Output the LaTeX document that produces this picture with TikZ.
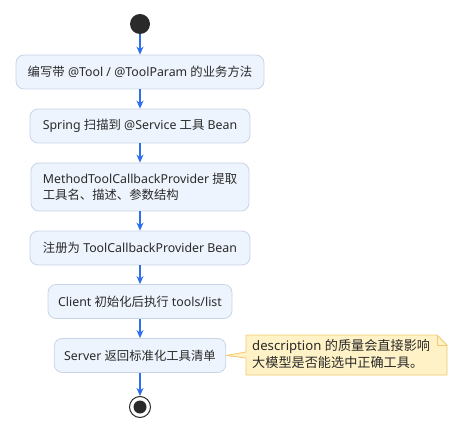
\documentclass[tikz,border=0pt]{standalone}
\usepackage{fontspec}
\setmainfont{Noto Sans}
\newfontfamily\cjk{Noto Sans CJK SC}
\usetikzlibrary{arrows.meta,positioning,calc}

\definecolor{stepfill}{HTML}{EEF4FD}
\definecolor{stepline}{HTML}{C8D4E8}
\definecolor{flowblue}{HTML}{2F6FEB}
\definecolor{notefill}{HTML}{FFF2C6}
\definecolor{noteline}{HTML}{F2C96E}
\definecolor{inkgray}{HTML}{2A2A2A}

\begin{document}
\begin{tikzpicture}[x=1bp, y=-1bp,
    act/.style={draw=stepline, fill=stepfill, rounded corners=8bp, line width=0.8bp,
        minimum height=34bp, inner xsep=10bp, align=left, text=inkgray,
        font=\fontsize{12.4}{15.5}\selectfont},
    flow/.style={-{Stealth[length=8bp, width=7bp, inset=2.5bp]}, draw=flowblue, line width=1.3bp},
    dot/.style={circle, inner sep=0pt}]
    % Frame
    \useasboundingbox (0,0) rectangle (468,437);
    % Start and end
    \node [dot, fill=inkgray, minimum size=20bp] (start) at (140,24) {};
    \node [dot, draw=inkgray, line width=1bp, minimum size=21bp] (stop) at (140,407) {};
    \node [dot, fill=inkgray, minimum size=13bp] (stopdot) at (stop) {};
    % Actions
    \node [act, minimum width=248bp] (write)    at (140,72)    {{\cjk 编写带} @Tool / @ToolParam {\cjk 的业务方法}};
    \node [act, minimum width=220bp] (scan)     at (140,126)   {Spring {\cjk 扫描到} @Service {\cjk 工具} Bean};
    \node [act, minimum width=218bp, minimum height=48bp] (extract) at (140,187)
        {MethodToolCallbackProvider {\cjk 提取}\\{\cjk 工具名、描述、参数结构}};
    \node [act, minimum width=220bp] (register) at (140,248)   {{\cjk 注册为} ToolCallbackProvider Bean};
    \node [act, minimum width=184bp] (list)     at (140,301.5) {Client {\cjk 初始化后执行} tools/list};
    \node [act, minimum width=171bp] (reply)    at (140,355.5) {Server {\cjk 返回标准化工具清单}};
    % Flow
    \draw [flow] (start) -- (write);
    \draw [flow] (write) -- (scan);
    \draw [flow] (scan) -- (extract);
    \draw [flow] (extract) -- (register);
    \draw [flow] (register) -- (list);
    \draw [flow] (list) -- (reply);
    \draw [flow] (reply) -- (stop);
    % Note with folded corner
    \coordinate (nw) at (246,335);
    \coordinate (se) at (447,375);
    \draw [draw=noteline, fill=notefill, line width=0.8bp, line join=round]
        (nw) -- ($(se|-nw)+(-10,0)$) -- ($(se|-nw)+(0,10)$) -- (se) -- (nw|-se)
        -- ($(nw)+(0,23)$) -- (reply.east) -- ($(nw)+(0,17)$) -- cycle;
    \draw [draw=noteline, line width=0.8bp]
        ($(se|-nw)+(-10,0)$) -- ($(se|-nw)+(-10,10)$) -- ($(se|-nw)+(0,10)$);
    \node [anchor=north west, inner sep=0pt, align=left, text=inkgray,
        font=\fontsize{13.2}{16.5}\selectfont] (note) at ($(nw)+(6,4.5)$)
        {description {\cjk 的质量会直接影响}\\{\cjk 大模型是否能选中正确工具。}};
\end{tikzpicture}
\end{document}
